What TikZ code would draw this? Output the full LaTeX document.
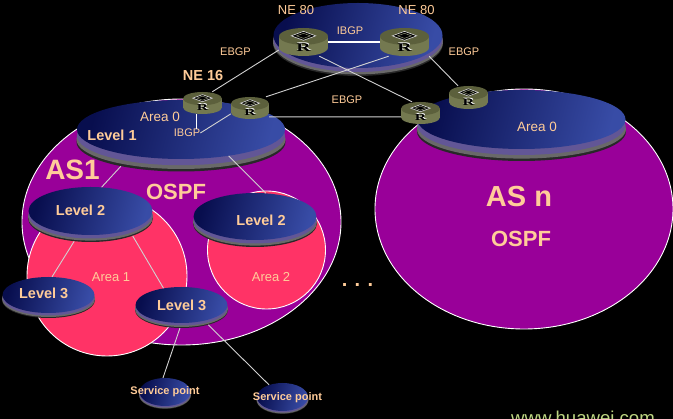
\documentclass[tikz,border=0pt]{standalone}
\usepackage{fontspec}
\setmainfont{Liberation Sans}
\newfontfamily\rfont{Liberation Serif}
\usetikzlibrary{shapes.geometric}
\definecolor{peach}{RGB}{255,204,153}
\definecolor{asfill}{RGB}{153,0,153}
\definecolor{areafill}{RGB}{255,51,102}
\definecolor{navy}{RGB}{8,14,78}
\definecolor{discblue}{RGB}{56,76,166}
\definecolor{rimpurple}{RGB}{98,86,150}
\definecolor{rimgray}{RGB}{105,105,105}
\definecolor{rimdark}{RGB}{40,40,40}
\definecolor{olive}{RGB}{116,121,80}
\definecolor{olivetop}{RGB}{92,96,60}
\definecolor{webgreen}{RGB}{190,215,130}
\tikzset{
  asblob/.style={ellipse,draw=white,line width=.9pt,fill=asfill,inner sep=0pt},
  areablob/.style={circle,draw=white,line width=.9pt,fill=areafill,inner sep=0pt},
  discface/.style={ellipse,inner sep=0pt,shading=axis,left color=navy,right color=discblue,shading angle=75},
  discrim/.style={ellipse,inner sep=0pt},
  routerbox/.style={rectangle,inner sep=0pt},
  link/.style={draw=white!82!black,line width=.9pt},
  linkbright/.style={draw=white,line width=1.1pt},
  lab/.style={text=peach,inner sep=0pt,font=\fontsize{#1}{#1}\selectfont},
  labb/.style={text=peach,inner sep=0pt,font=\fontsize{#1}{#1}\selectfont\bfseries}
}
% name, cx, cy of face, rx, ry, rim depth
\newcommand{\mydisc}[6]{%
  \node[discrim,fill=rimdark,minimum width={2*#4pt},minimum height={2*#5pt}] (#1) at (#2,#3+#6) {};
  \node[discrim,fill=rimgray,minimum width={2*#4pt},minimum height={2*#5pt}] (#1g) at (#2,#3+0.8*#6) {};
  \node[discrim,fill=rimpurple,minimum width={2*#4pt-1pt},minimum height={2*#5pt}] (#1p) at (#2,#3+0.5*#6) {};
  \node[discface,minimum width={2*#4pt-1pt},minimum height={2*#5pt}] (#1f) at (#2,#3) {};
}
% name, cx, cy, w, h
\newcommand{\myrouter}[5]{%
  \node[routerbox,minimum width=#4pt,minimum height=#5pt] (#1) at (#2,#3) {};
  \begin{scope}[shift={(#2,#3)},x=#4pt,y=-#5pt]
    \fill[olive] (-.5,-.2) rectangle (.5,.2);
    \fill[olive] (0,.2) ellipse[x radius=.5,y radius=.3];
    \fill[olivetop] (0,-.2) ellipse[x radius=.5,y radius=.3];
    \draw[white!85!black,line width=.6pt,fill=black] (-.25,-.22) -- (0,-.38) -- (.25,-.22) -- (0,-.06) -- cycle;
    \draw[olivetop!70!white,line width=.5pt] (-.14,-.22) -- (0,-.31) -- (.14,-.22) -- (0,-.13) -- cycle;
  \end{scope}
  \pgfmathsetmacro{\rsize}{#5*0.42}
  \node[inner sep=0pt,text=white,font=\fontsize{\rsize}{\rsize}\selectfont\rfont\bfseries] (#1s) at ([xshift=.6pt,yshift=.6pt]#2,#3+0.2*#5) {\scalebox{1.7}[1]{R}};
  \node[inner sep=0pt,text=black,font=\fontsize{\rsize}{\rsize}\selectfont\rfont\bfseries] (#1t) at (#2,#3+0.2*#5) {\scalebox{1.7}[1]{R}};
}
\begin{document}
\begin{tikzpicture}[x=1pt,y=-1pt]
\useasboundingbox (0,0) rectangle (673,419);
\clip (0,0) rectangle (673,419);
\fill[black] (0,0) rectangle (673,419);
% big ellipses
\node[asblob,minimum width=319pt,minimum height=246pt] (as1) at (181.5,222) {};
\node[asblob,minimum width=298pt,minimum height=240pt] (asn) at (524,209) {};
\node[areablob,minimum size=160pt] (area1) at (107,276) {};
\node[areablob,minimum size=118pt] (area2) at (266.5,250) {};
% discs
\mydisc{ne}{358}{35.5}{85}{32.5}{8}
\mydisc{l1}{181}{129.5}{104.5}{29.5}{12.5}
\mydisc{a0}{521.5}{119.5}{104.5}{29.5}{12}
\mydisc{l2a}{90.5}{211}{62.5}{24}{7}
\mydisc{l2b}{255}{216.5}{62}{23.5}{7}
\mydisc{l3a}{48.5}{295}{46.5}{18}{5}
\mydisc{l3b}{181.5}{305}{46.5}{18}{5}
\mydisc{sp1}{165}{392}{26}{14}{3}
\mydisc{sp2}{282.5}{397}{26}{14}{3}
% labels
\node[lab=13] (tne1) at (296,10) {NE 80};
\node[lab=13] (tne2) at (416.5,10) {NE 80};
\node[labb=14.5] (tne16) at (203,76) {NE 16};
\node[lab=11] (tibgp1) at (350,31) {IBGP};
\node[lab=11] (tebgp1) at (235.5,52) {EBGP};
\node[lab=11] (tebgp2) at (464,52) {EBGP};
\node[lab=11] (tebgp3) at (347,100) {EBGP};
\node[lab=11] (ibgp) at (187,133) {IBGP};
\node[lab=13.5] (ta0a) at (160,117) {Area 0};
\node[lab=13.5] (ta0b) at (537,127) {Area 0};
\node[labb=14.5] (tl1) at (112,135) {Level 1};
\node[labb=14.5] (tl2a) at (80.5,210) {Level 2};
\node[labb=14.5] (tl2b) at (261,220) {Level 2};
\node[labb=14.5] (tl3a) at (43.7,293.7) {Level 3};
\node[labb=14.5] (tl3b) at (181.7,305) {Level 3};
\node[labb=28] (tas1) at (72.5,170) {AS1};
\node[labb=29] (tasn) at (519,197) {AS n};
\node[labb=22] (tospf1) at (176,192) {OSPF};
\node[labb=22] (tospf2) at (521,239) {OSPF};
\node[lab=13] (tarea1) at (111,277) {Area 1};
\node[lab=13] (tarea2) at (271,277) {Area 2};
\node[labb=11] (tsp1) at (165,392) {Service point};
\node[labb=11] (tsp2) at (287.5,398) {Service point};
\node[labb=20,anchor=base] (tdots) at (357.5,287) {. . .};
\node[inner sep=0pt,text=webgreen,font=\fontsize{18.6}{20}\selectfont,anchor=base] (tweb) at (583,424.6) {www.huawei.com};
% routers
\myrouter{rA}{202.5}{103}{39}{22}
\myrouter{rB}{250}{108}{38}{22}
\myrouter{rC}{303.5}{42}{49}{28}
\myrouter{rD}{404.5}{42}{49}{28}
\myrouter{rE}{468.5}{97.5}{39}{23}
\myrouter{rF}{420.5}{113}{39}{22}
% connectors
\draw[link] (rA.49) -- (rC.198);
\draw[link] (rB.35) -- (rD.222);
\draw[linkbright] (rC.east) -- (rD.west);
\draw[link] (rC.318) -- (rF.127);
\draw[link] (rD.330) -- (rE.132);
\draw[link] (rB.335) -- (rF.191);
\draw[linkbright] (rA.243) -- (rA.243 |- ibgp.north);
\draw[link] (rB.197) -- (ibgp.east);
\draw[link] (l1.202) -- (l2af.65);
\draw[link] (l1f.331) -- (l2bf.65);
\draw[link] (l2a.235) -- (l3af.79);
\draw[link] (l2a.337) -- (l3bf.137);
\draw[link] (l3b.265) -- (sp1f.98);
\draw[link] (l3b.331) -- (sp2f.138);
\end{tikzpicture}
\end{document}
